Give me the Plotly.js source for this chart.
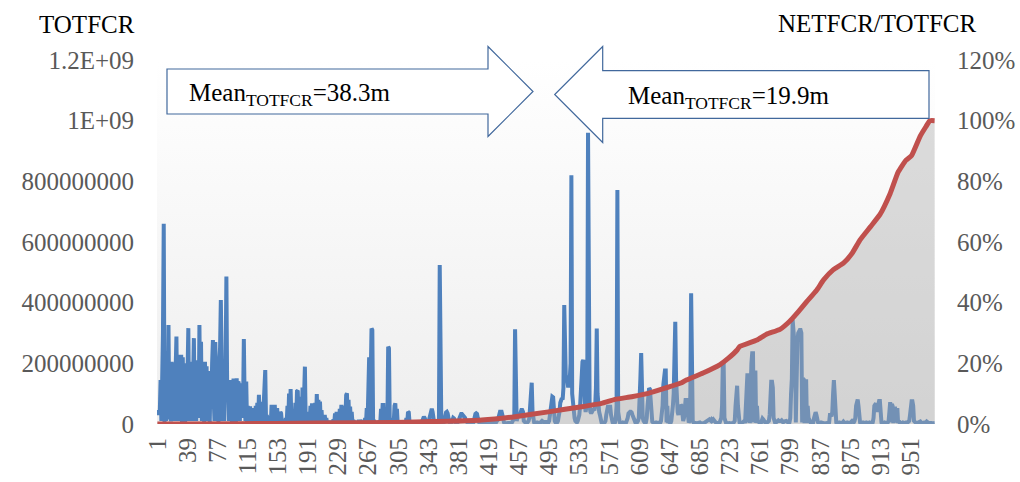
<!DOCTYPE html>
<html><head><meta charset="utf-8">
<script src="https://cdn.plot.ly/plotly-3.0.1.min.js"></script>
<style>html,body{margin:0;padding:0;background:#fff;}#chart{width:1020px;height:482px;}</style>
</head><body><div id="chart"></div>
<script>
const totfcrM = [
40,30,45,35,145,10,140,300,660,5,200,10,240,20,326,15,200,8,205,20,
200,120,10,180,288,20,228,10,225,15,228,5,220,40,200,5,150,20,180,316,
10,200,60,205,10,190,283,30,210,10,205,80,20,326,40,271,10,200,60,5,
205,20,190,10,175,60,5,150,60,200,277,80,10,270,60,10,140,5,200,250,
409,60,10,180,10,140,200,486,100,145,10,140,15,145,5,130,150,10,140,5,
151,10,140,130,10,134,20,120,60,280,80,10,140,5,60,10,52,52,5,50,
52,5,45,3,60,5,70,3,96,5,73,3,60,5,80,100,178,5,30,3,
15,3,25,5,63,5,63,3,63,5,45,52,5,10,3,40,35,3,5,2,
10,3,20,5,60,5,100,3,115,5,35,3,5,3,70,3,108,110,3,90,
5,90,3,120,5,185,189,3,35,3,10,40,3,60,5,68,3,55,5,70,
3,99,5,80,3,74,5,46,3,30,3,30,5,20,3,5,2,10,3,2,
5,2,15,3,35,5,40,3,20,5,50,3,63,5,40,3,60,5,95,101,
5,80,3,57,5,40,3,13,2,5,2,2,5,3,13,2,13,3,3,2,
5,2,20,3,52,5,216,220,5,300,315,310,5,13,2,5,3,2,3,2,
10,3,50,5,63,63,3,30,2,40,5,255,250,5,20,3,2,10,3,60,
68,3,50,2,5,3,2,2,3,5,3,2,5,2,20,3,40,38,3,5,
3,2,2,3,2,2,5,3,2,3,5,3,2,5,10,20,24,20,8,3,
2,3,8,20,35,48,50,40,15,5,3,2,3,5,3,5,524,40,10,5,
3,5,15,30,38,40,35,20,5,3,2,5,12,20,18,8,3,2,3,5,
10,20,30,33,33,30,28,26,20,10,5,3,2,3,2,3,5,3,2,10,
25,33,35,33,20,8,3,2,3,2,3,2,2,3,2,3,5,3,2,3,
2,3,2,5,3,2,3,5,10,12,20,35,40,40,40,30,10,5,3,2,
3,2,3,5,3,2,3,5,10,15,20,312,15,10,20,30,35,30,40,46,
46,40,10,5,3,2,3,5,10,20,60,100,136,40,10,5,3,2,3,5,
3,2,3,5,8,10,8,5,3,5,10,5,3,5,10,30,60,85,90,88,
30,10,5,3,5,10,20,40,70,85,85,80,120,392,200,150,160,140,120,160,
150,200,820,100,60,30,20,10,5,5,10,20,30,60,120,160,205,211,180,60,
40,60,100,960,120,60,40,35,40,45,50,45,60,120,315,100,46,40,30,10,
5,3,2,3,5,10,30,50,57,57,57,57,30,10,5,3,2,5,20,60,
771,40,10,5,3,2,3,5,3,2,3,5,10,20,35,40,40,40,38,30,
20,10,5,3,2,5,10,20,60,150,234,100,20,10,5,3,5,20,60,110,
118,115,60,20,8,5,3,2,3,5,3,2,3,5,3,10,30,60,130,170,
176,176,5,60,3,10,5,3,10,30,60,100,200,337,150,60,40,30,40,55,
63,60,30,10,20,60,79,79,40,10,5,10,100,431,120,10,5,3,2,3,
2,3,2,3,5,3,2,3,2,3,5,8,10,12,10,12,15,12,10,15,
12,15,10,5,3,2,3,2,3,5,10,20,60,205,200,20,5,3,2,3,
2,3,2,3,5,3,2,5,10,60,126,126,60,10,5,3,2,3,5,10,
10,3,60,140,167,5,160,3,150,200,233,233,5,176,176,3,60,10,5,3,
2,3,10,18,15,8,3,2,3,5,5,10,30,100,139,139,120,20,5,3,
5,8,10,12,10,8,10,12,10,5,8,10,12,10,8,5,3,5,20,100,
150,343,300,250,244,5,250,270,300,310,310,310,300,5,150,147,3,147,147,3,
60,20,10,5,3,2,3,5,20,39,39,30,10,5,3,2,3,5,3,2,
3,2,3,5,3,2,3,5,30,30,25,40,100,145,100,20,5,3,2,3,
5,3,2,3,5,8,5,3,2,3,5,3,2,3,5,8,10,8,5,10,
20,60,81,81,60,10,5,3,2,3,5,3,2,3,5,3,2,3,5,3,
2,3,5,20,60,68,68,40,50,70,76,76,20,5,3,2,3,5,3,2,
3,5,10,40,72,5,65,60,3,55,57,5,52,52,3,10,5,3,2,3,
5,3,2,3,5,3,5,8,10,30,60,75,75,60,10,5,3,2,3,5,
8,10,8,5,3,2,3,5,3,5,8,5,3,2,3,5,3,2,3,5,
3
];
// cumulative NETFCR/TOTFCR (fraction) read at these observation indices
const ratioIdx = [1,100,200,300,327,368,410,452,494,536,561,578,599,620,641,662,668,689,710,721,732,735,757,769,786,798,809,820,832,841,853,866,877,887,900,912,925,935,945,952,963,970,975,981];
const ratioVal = [0,0.001,0.003,0.005,0.007,0.009,0.013,0.024,0.040,0.057,0.068,0.081,0.090,0.101,0.118,0.136,0.145,0.168,0.195,0.217,0.244,0.255,0.277,0.296,0.312,0.338,0.370,0.404,0.440,0.475,0.508,0.530,0.563,0.607,0.650,0.690,0.760,0.830,0.870,0.885,0.950,0.980,1.000,1.000];

const xTickVals = [1,39,77,115,153,191,229,267,305,343,381,419,457,495,533,571,609,647,685,723,761,799,837,875,913,951];
const yLeftVals = [0,200,400,600,800,1000,1200];
const yLeftText = ['0','200000000','400000000','600000000','800000000','1E+09','1.2E+09'];
const yRightVals = [0,0.2,0.4,0.6,0.8,1.0,1.2];
const yRightText = ['0%','20%','40%','60%','80%','100%','120%'];
const leftNote = 'Mean<sub>TOTFCR</sub>=38.3m';
const rightNote = 'Mean<sub>TOTFCR</sub>=19.9m';

const obsIdx = totfcrM.map((v,i)=>i+1);

const L=157,R=935,T=60,B=424;
const fx = x => (x-L)/(R-L);
const fy = y => (B-y)/(B-T);
function path(pts){return 'M '+pts.map(p=>fx(p[0]).toFixed(5)+','+fy(p[1]).toFixed(5)).join(' L ')+' Z';}

const serif = 'Liberation Serif, Times New Roman, serif';
const grad = '<svg xmlns="http://www.w3.org/2000/svg" width="100" height="100" viewBox="0 0 100 100" preserveAspectRatio="none"><defs><linearGradient id="g" x1="0" y1="0" x2="0" y2="1"><stop offset="0" stop-color="#ffffff"/><stop offset="1" stop-color="#eeeeee"/></linearGradient></defs><rect width="100" height="100" fill="url(#g)"/></svg>';

const traces = [
  {x: obsIdx, y: totfcrM, type:'scatter', mode:'lines', line:{color:'#4f81bd', width:4}, yaxis:'y', hoverinfo:'skip'},
  {x: ratioIdx, y: ratioVal, type:'scatter', mode:'lines', line:{color:'#c0504d', width:5, shape:'spline', smoothing:0.4}, fill:'tozeroy', fillcolor:'rgba(170,170,170,0.4)', yaxis:'y2', hoverinfo:'skip'}
];

const layout = {
  width:1020, height:482,
  margin:{l:L, r:1020-R, t:T, b:482-B},
  paper_bgcolor:'#ffffff', plot_bgcolor:'rgba(0,0,0,0)',
  showlegend:false,
  font:{family:serif, color:'#595959', size:25},
  xaxis:{range:[0.5,981.5], tickmode:'array', tickvals:xTickVals, ticktext:xTickVals.map(String), tickangle:-90,
         showgrid:false, zeroline:false, showline:false, ticks:'', ticklabelstandoff:8,
         tickfont:{family:serif, size:25, color:'#595959'}, automargin:false},
  yaxis:{range:[0,1200], tickmode:'array', tickvals:yLeftVals, ticktext:yLeftText, showgrid:false, zeroline:false,
         showline:false, ticks:'', ticklabelstandoff:22, tickfont:{family:serif, size:25, color:'#595959'}, automargin:false},
  yaxis2:{range:[0,1.2], overlaying:'y', side:'right', tickmode:'array', tickvals:yRightVals, ticktext:yRightText,
          showgrid:false, zeroline:false, showline:false, ticks:'', ticklabelstandoff:21,
          tickfont:{family:serif, size:25, color:'#595959'}, automargin:false},
  images:[{source:'data:image/svg+xml;charset=utf-8,'+encodeURIComponent(grad), xref:'paper', yref:'paper',
           x:0, y:1, sizex:1, sizey:1, xanchor:'left', yanchor:'top', sizing:'stretch', layer:'below'}],
  shapes:[
    {type:'path', xref:'paper', yref:'paper', path:path([[167,69],[488,69],[488,46.5],[533,91.5],[488,136.5],[488,114],[167,114]]),
     fillcolor:'#ffffff', line:{color:'#41689c', width:1.2}},
    {type:'path', xref:'paper', yref:'paper', path:path([[929,70.7],[602.7,70.7],[602.7,46.5],[554.7,94.5],[602.7,142.5],[602.7,118.3],[929,118.3]]),
     fillcolor:'#ffffff', line:{color:'#41689c', width:1.2}}
  ],
  annotations:[
    {text:'TOTFCR', xref:'paper', yref:'paper', x:fx(87), y:fy(25), xanchor:'center', yanchor:'middle', showarrow:false,
     font:{family:serif, size:25, color:'#000000'}},
    {text:'NETFCR/TOTFCR', xref:'paper', yref:'paper', x:fx(877), y:fy(24), xanchor:'center', yanchor:'middle', showarrow:false,
     font:{family:serif, size:25, color:'#000000'}},
    {text:leftNote, xref:'paper', yref:'paper', x:fx(187), y:fy(94), xanchor:'left', yanchor:'middle', showarrow:false,
     font:{family:serif, size:25, color:'#000000'}},
    {text:rightNote, xref:'paper', yref:'paper', x:fx(626), y:fy(97), xanchor:'left', yanchor:'middle', showarrow:false,
     font:{family:serif, size:25, color:'#000000'}}
  ]
};
Plotly.newPlot('chart', traces, layout, {staticPlot:true, displayModeBar:false});
</script>
</body></html>
